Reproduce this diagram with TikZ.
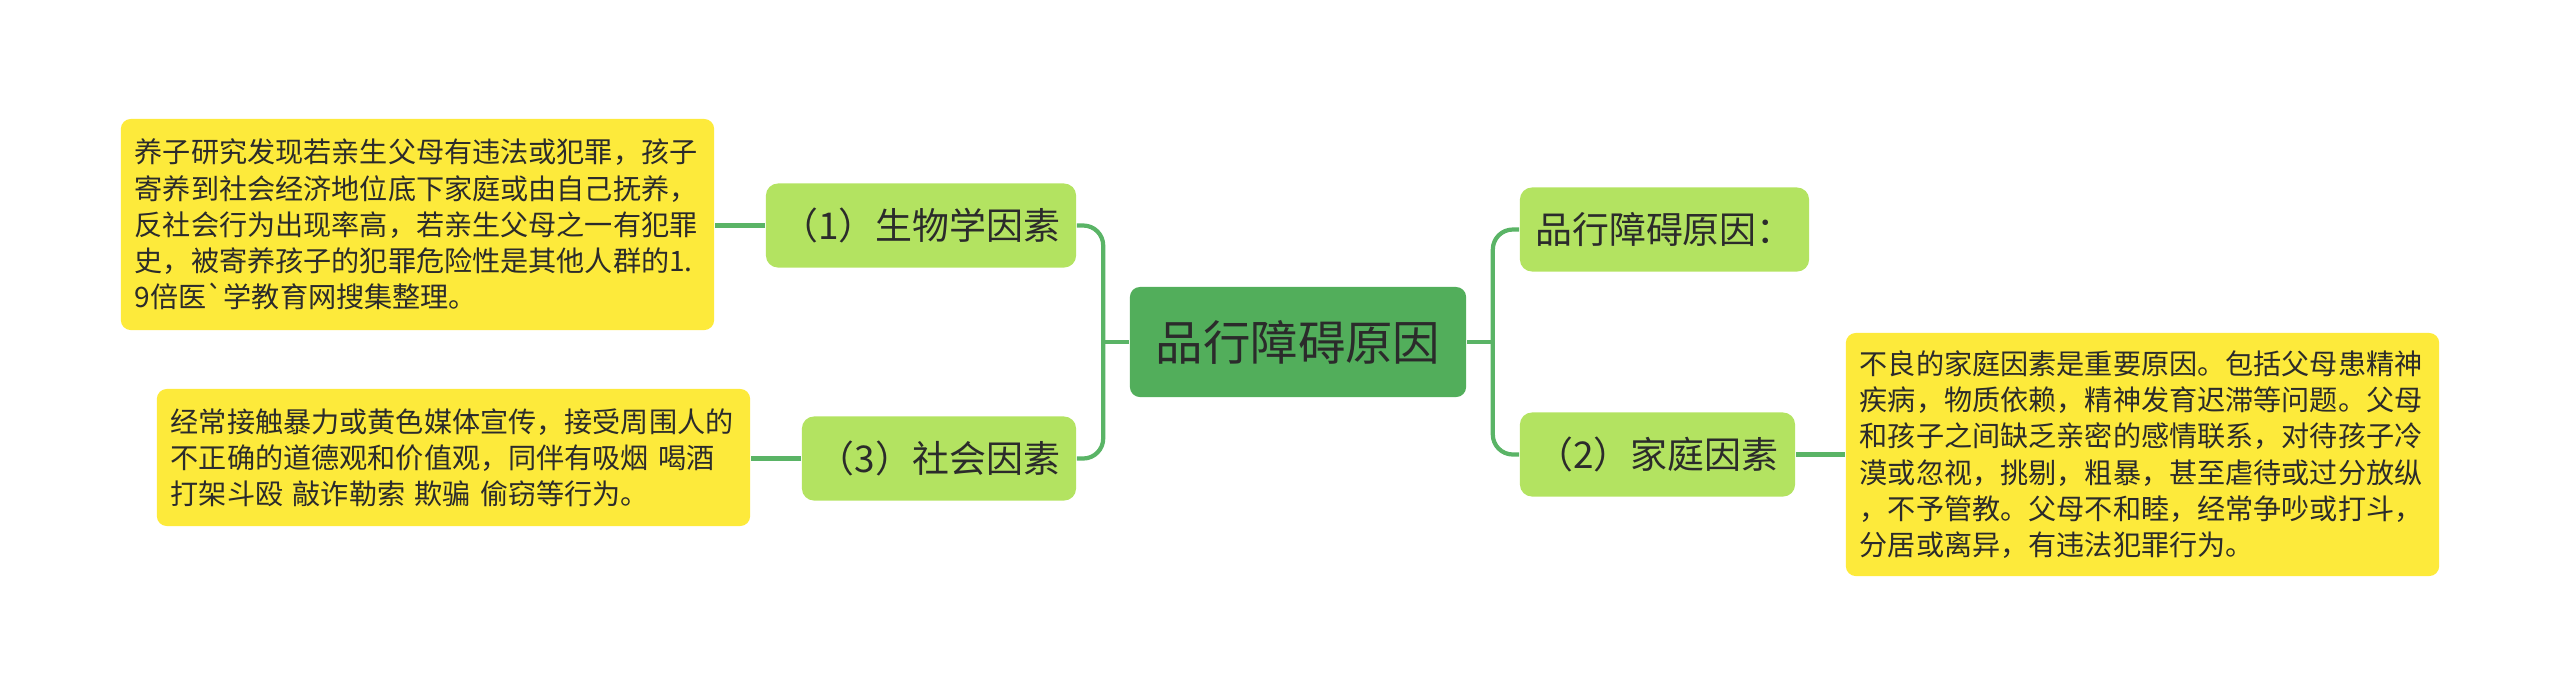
\documentclass[tikz,border=0pt]{standalone}
\usepackage{fontspec}
\newfontfamily\cjkfont{Noto Sans CJK SC}
\usepackage{tikz}
\usetikzlibrary{positioning,calc}
\definecolor{rootgreen}{HTML}{52AE5B}
\definecolor{leafgreen}{HTML}{B3E361}
\definecolor{noteyellow}{HTML}{FDEA3B}
\definecolor{linkgreen}{HTML}{5AB466}
\definecolor{inkgray}{HTML}{2B2B2B}

\begin{document}
\begin{tikzpicture}[x=0.01cm,y=-0.01cm,
    every node/.style={text=inkgray},
    root/.style={fill=rootgreen,rounded corners=0.1cm,inner sep=0pt,minimum width=3.36cm,minimum height=1.1cm,font=\cjkfont\fontsize{13.5pt}{16pt}\selectfont},
    branch/.style={fill=leafgreen,rounded corners=0.12cm,inner sep=0pt,minimum height=0.84cm,font=\cjkfont\fontsize{10.5pt}{12pt}\selectfont},
    note/.style={fill=noteyellow,rounded corners=0.1cm,align=left,text width=5.65cm,inner xsep=0.14cm,inner ysep=0pt,font=\cjkfont\fontsize{8pt}{10.3pt}\selectfont},
    link/.style={draw=linkgreen,line width=1.2pt,rounded corners=0.2cm}]
    \useasboundingbox (0,0) rectangle (2560,699);

    % centre topic
    \node[root] (root) at (1298,342) {品行障碍原因};

    % left branches
    \node[branch,minimum width=3.10cm] (bio) at (921,225.5) {（1）生物学因素};
    \node[branch,minimum width=2.74cm] (soc) at (939,458.5) {（3）社会因素};
    % right branches
    \node[branch,minimum width=2.89cm] (cause) at (1664.5,229.5) {品行障碍原因：};
    \node[branch,minimum width=2.75cm] (family) at (1657.5,454.5) {（2）家庭因素};

    % notes
    \node[note,minimum height=2.11cm] (bioNote) at (417.5,224.5) {养子研究发现若亲生父母有违法或犯罪，孩子\\寄养到社会经济地位底下家庭或由自己抚养，\\反社会行为出现率高，若亲生父母之一有犯罪\\史，被寄养孩子的犯罪危险性是其他人群的1.\\9倍医`学教育网搜集整理。};
    \node[note,minimum height=1.37cm] (socNote) at (453.5,457.5) {经常接触暴力或黄色媒体宣传，接受周围人的\\不正确的道德观和价值观，同伴有吸烟 喝酒\\打架斗殴 敲诈勒索 欺骗 偷窃等行为。};
    \node[note,minimum height=2.43cm] (famNote) at (2142.5,454.5) {不良的家庭因素是重要原因。包括父母患精神\\疾病，物质依赖，精神发育迟滞等问题。父母\\和孩子之间缺乏亲密的感情联系，对待孩子冷\\漠或忽视，挑剔，粗暴，甚至虐待或过分放纵\\，不予管教。父母不和睦，经常争吵或打斗，\\分居或离异，有违法犯罪行为。};

    % connectors
    \coordinate (jl) at ($(root.west)+(-26,0)$);
    \coordinate (jr) at ($(root.east)+(26,0)$);
    \draw[link] (root.west) -- (jl);
    \draw[link] (bio.east) -| (jl) |- (soc.east);
    \draw[link] (root.east) -- (jr);
    \draw[link] (cause.west) -| (jr) |- (family.west);
    \draw[link] (bio.west) -- (bio.west -| bioNote.east);
    \draw[link] (soc.west) -- (soc.west -| socNote.east);
    \draw[link] (family.east) -- (family.east -| famNote.west);
\end{tikzpicture}
\end{document}
